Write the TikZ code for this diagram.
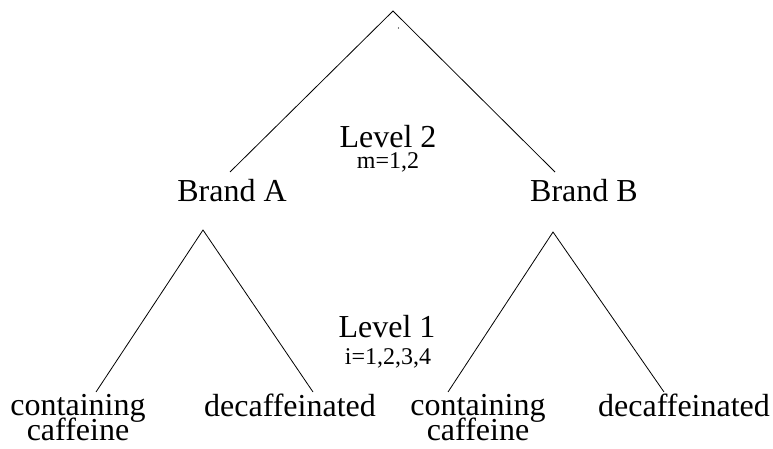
\documentclass[tikz,border=0pt]{standalone}
\usepackage{fontspec}
\setmainfont{Liberation Serif}
\usepackage{tikz}
\usetikzlibrary{positioning}

\tikzset{
	big/.style = {font = \fontsize{32bp}{24bp}\selectfont, inner sep = 0pt, anchor = base, align = center},
	small/.style = {font = \fontsize{24bp}{26bp}\selectfont, inner sep = 0pt, anchor = base},
	branch/.style = {line width = 0.8bp}
}

\begin{document}
\begin{tikzpicture}[x = 1bp, y = -1bp]
		\useasboundingbox (0,0) rectangle (773,449);
		% level 2
		\coordinate (top) at (393,11);
		\coordinate (a) at (230,172);
		\coordinate (b) at (555,172);
		\fill (398.5,28) circle (0.6bp);
		\node[big] (brandA) at (232,202) {Brand A};
		\node[big] (brandB) at (584,202) {Brand B};
		\node[big] (lev2) at (388,148) {Level 2};
		\node[small] (m) at (388,169) {m=1,2};
		\draw[branch] (a) -- (top) -- (b);
		% level 1
		\coordinate (ta) at (203,230);
		\coordinate (tb) at (553,232);
		\coordinate (a1) at (96,392);
		\coordinate (a2) at (313,392);
		\coordinate (b1) at (448,392);
		\coordinate (b2) at (664,392);
		\node[big] (capA) at (78,440) {containing\\[-6bp]caffeine};
		\node[big] (decA) at (290,416) {decaffeinated};
		\node[big] (capB) at (478,440) {containing\\[-6bp]caffeine};
		\node[big] (decB) at (684,416) {decaffeinated};
		\node[big] (lev1) at (387,338) {Level 1};
		\node[small] (i) at (388,365) {i=1,2,3,4};
		\draw[branch] (a1) -- (ta) -- (a2);
		\draw[branch] (b1) -- (tb) -- (b2);
	\end{tikzpicture}
\end{document}
